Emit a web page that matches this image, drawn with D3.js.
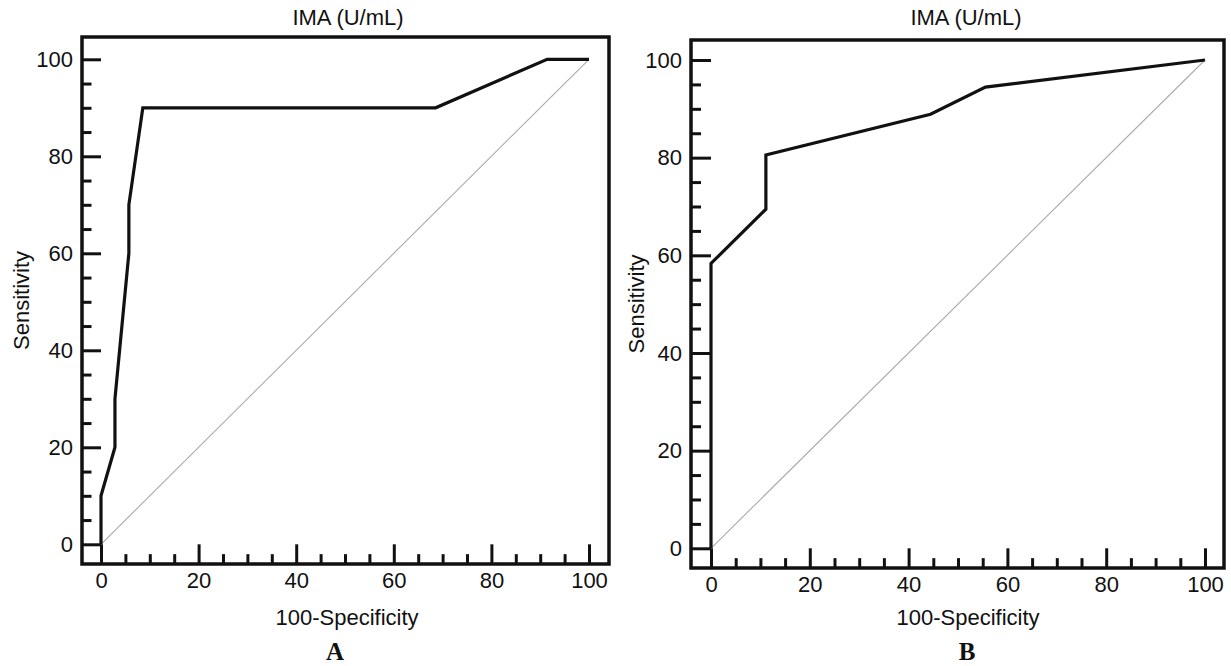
<!DOCTYPE html>
<html>
<head>
<meta charset="utf-8">
<script src="https://cdn.jsdelivr.net/npm/d3@7"></script>
<style>
  body { margin: 0; background: #fff; }
  svg { display: block; }
  text { font-family: "Liberation Sans", Arial, sans-serif; fill: #111; }
</style>
</head>
<body>
<svg id="chart" width="1231" height="666"></svg>
<script>
// ---- data ----
const titleText = "IMA (U/mL)";
const xLabel = "100-Specificity";
const yLabel = "Sensitivity";
const panelLetters = ["A", "B"];
const majorTicks = [0, 20, 40, 60, 80, 100];
const minorTicks = [5, 10, 15, 25, 30, 35, 45, 50, 55, 65, 70, 75, 85, 90, 95];

// Panel A ROC curve (100-Specificity, Sensitivity)
const rocA_x = [0, 0, 2.86, 2.86, 5.71, 5.71, 8.57, 68.57, 91.43, 100];
const rocA_y = [0, 10, 20, 30, 60, 70, 90, 90, 100, 100];
// Panel B ROC curve
const rocB_x = [0, 0, 11.11, 11.11, 44.44, 55.56, 100];
const rocB_y = [0, 58.33, 69.44, 80.56, 88.89, 94.44, 100];
// reference diagonal
const diag_x = [0, 100];
const diag_y = [0, 100];

// ---- layout ----
const svg = d3.select("#chart");
const panels = [
  { xs: rocA_x, ys: rocA_y, letter: panelLetters[0],
    x0: 101, x1: 589, y0: 544.3, y1: 59.3,
    fl: 82, fr: 609, ft: 37, fb: 564,
    titleX: 348, xLabX: 347, yLabX: 21, letterX: 335 },
  { xs: rocB_x, ys: rocB_y, letter: panelLetters[1],
    x0: 711, x1: 1205, y0: 548.3, y1: 60,
    fl: 691, fr: 1224, ft: 40, fb: 568,
    titleX: 966, xLabX: 968, yLabX: 636, letterX: 967 }
];

const FS = 22;

panels.forEach(p => {
  const g = svg.append("g");
  const x = d3.scaleLinear().domain([0, 100]).range([p.x0, p.x1]);
  const y = d3.scaleLinear().domain([0, 100]).range([p.y0, p.y1]);
  const majLenX = p.fb - p.y0;   // ticks reach the zero line
  const majLenY = p.x0 - p.fl;

  // diagonal
  g.append("path")
    .datum(diag_x.map((d, i) => [d, diag_y[i]]))
    .attr("d", d3.line().x(d => x(d[0])).y(d => y(d[1])))
    .attr("fill", "none").attr("stroke", "#aaaaaa").attr("stroke-width", 1.1);

  // bottom axis major + minor
  const xMaj = g.append("g").attr("transform", `translate(0,${p.fb})`)
    .call(d3.axisBottom(x).tickValues(majorTicks).tickSize(-majLenX).tickFormat(d3.format("d")));
  const xMin = g.append("g").attr("transform", `translate(0,${p.fb})`)
    .call(d3.axisBottom(x).tickValues(minorTicks).tickSize(-majLenX / 2).tickFormat(""));
  const yMaj = g.append("g").attr("transform", `translate(${p.fl},0)`)
    .call(d3.axisLeft(y).tickValues(majorTicks).tickSize(-majLenY).tickFormat(d3.format("d")));
  const yMin = g.append("g").attr("transform", `translate(${p.fl},0)`)
    .call(d3.axisLeft(y).tickValues(minorTicks).tickSize(-majLenY / 2).tickFormat(""));

  [xMaj, xMin, yMaj, yMin].forEach(a => {
    a.select(".domain").remove();
    a.selectAll(".tick line").attr("stroke", "#111").attr("stroke-width", 3);
  });
  xMaj.selectAll(".tick text").attr("font-size", FS).attr("fill", "#111")
    .attr("font-family", "'Liberation Sans', Arial, sans-serif").attr("y", 8).attr("dy", "0.71em");
  yMaj.selectAll(".tick text").attr("font-size", FS).attr("fill", "#111")
    .attr("font-family", "'Liberation Sans', Arial, sans-serif").attr("x", -9).attr("text-anchor", "end");

  // frame
  g.append("rect")
    .attr("x", p.fl).attr("y", p.ft)
    .attr("width", p.fr - p.fl).attr("height", p.fb - p.ft)
    .attr("fill", "none").attr("stroke", "#111").attr("stroke-width", 3.5);

  // ROC curve
  g.append("path")
    .datum(p.xs.map((d, i) => [d, p.ys[i]]))
    .attr("d", d3.line().x(d => x(d[0])).y(d => y(d[1])))
    .attr("fill", "none").attr("stroke", "#111").attr("stroke-width", 3.2)
    .attr("stroke-linejoin", "miter");

  // title
  g.append("text").attr("x", p.titleX).attr("y", 25)
    .attr("text-anchor", "middle").attr("font-size", FS).text(titleText);
  // x label
  g.append("text").attr("x", p.xLabX).attr("y", 625)
    .attr("text-anchor", "middle").attr("font-size", FS).text(xLabel);
  // y label
  g.append("text")
    .attr("transform", `translate(${p.yLabX},${(p.ft + p.fb) / 2}) rotate(-90)`)
    .attr("text-anchor", "middle").attr("dy", "0.35em").attr("font-size", FS).text(yLabel);
  // panel letter
  g.append("text").attr("x", p.letterX).attr("y", 660)
    .attr("text-anchor", "middle").attr("font-size", 25).attr("font-weight", "bold")
    .style("font-family", "'Liberation Serif', 'Times New Roman', serif").text(p.letter);
});
</script>
</body>
</html>
